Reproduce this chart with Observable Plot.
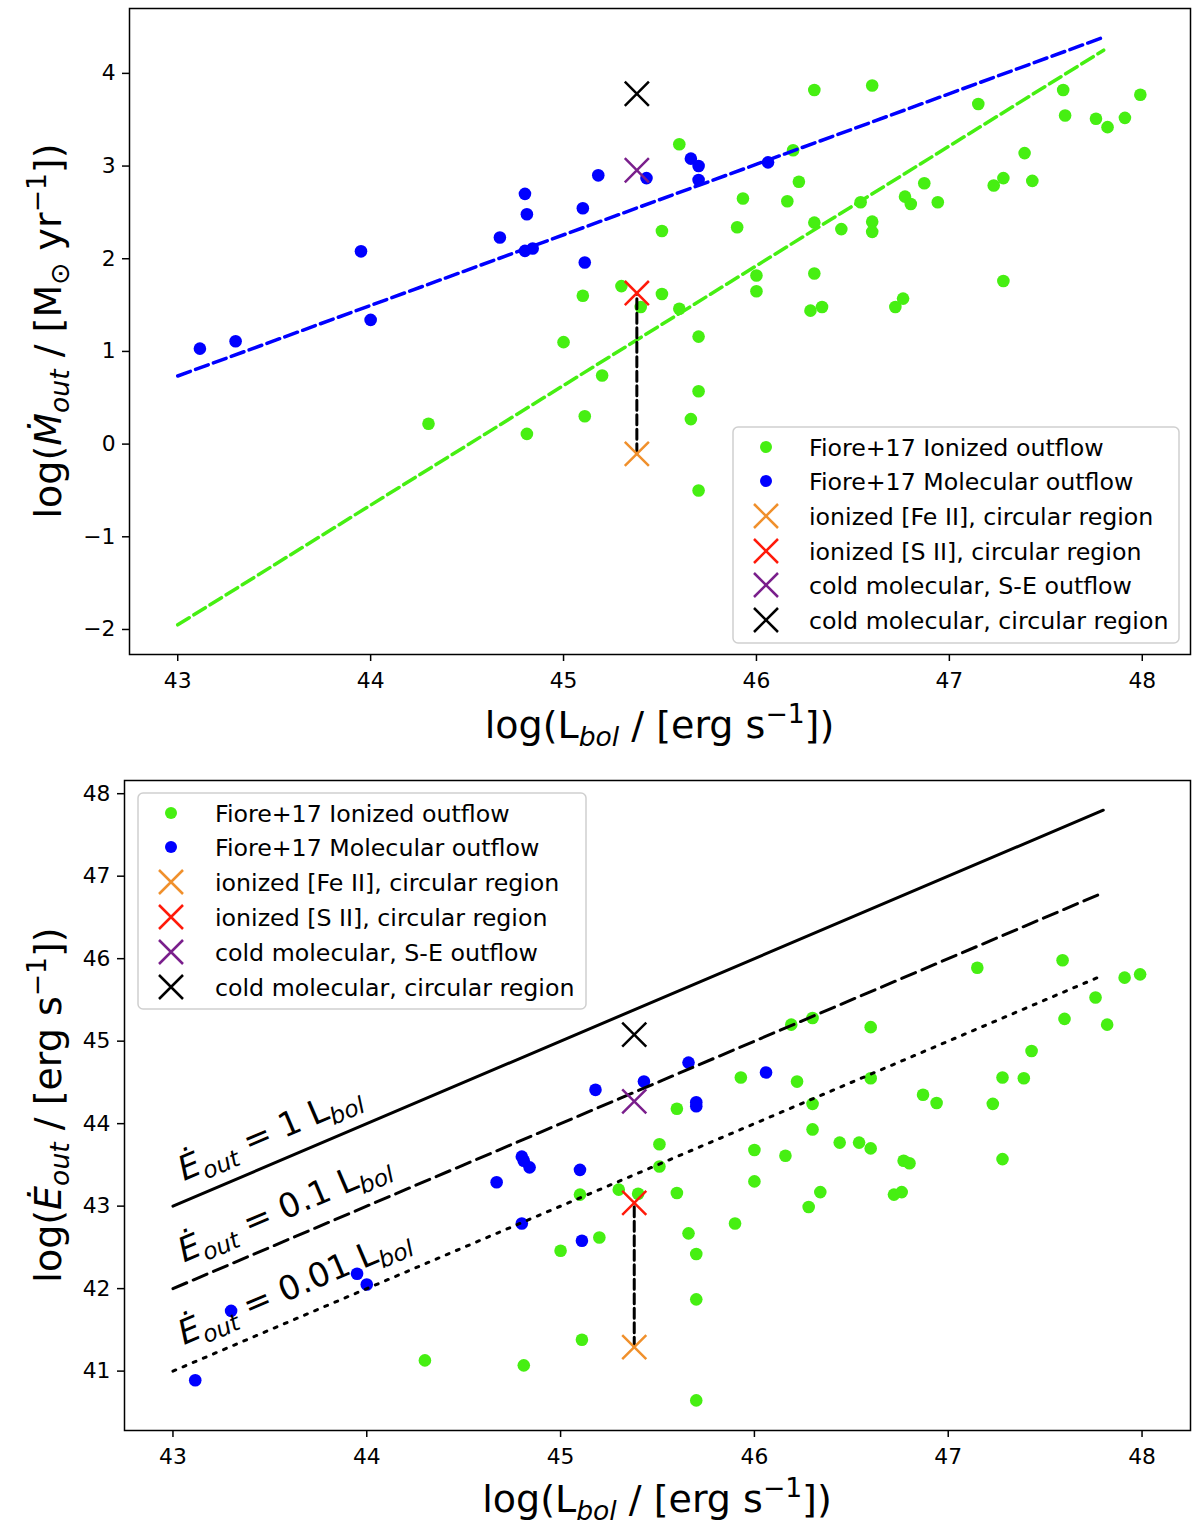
<!DOCTYPE html>
<html><head><meta charset="utf-8">
<script src="https://cdn.jsdelivr.net/npm/d3@7"></script>
<script src="https://cdn.jsdelivr.net/npm/@observablehq/plot@0.6"></script>
<style>
body{margin:0;background:#fff;}
#chart svg{display:block;}
</style>
</head><body><div id="chart"></div>
<script>
// ---------- data ----------
const ionLbol = [44.30,44.81,45.00,45.11,45.10,45.20,45.30,45.40,45.51,45.51,45.60,45.60,45.66,45.70,45.70,45.70,45.90,45.93,46.00,46.00,46.16,46.19,46.22,46.28,46.30,46.30,46.30,46.34,46.44,46.54,46.60,46.60,46.60,46.72,46.76,46.77,46.80,46.87,46.94,47.15,47.23,47.28,47.28,47.39,47.43,47.59,47.60,47.76,47.82,47.91,47.99];
const ionMdot = [0.22,0.11,1.10,0.30,1.60,0.74,1.705,1.48,1.62,2.30,3.235,1.46,0.27,1.16,0.57,-0.50,2.34,2.65,1.82,1.65,2.62,3.17,2.83,1.44,3.82,2.39,1.84,1.48,2.32,2.61,3.87,2.40,2.29,1.48,1.57,2.67,2.59,2.815,2.61,3.67,2.79,2.87,1.76,3.14,2.84,3.82,3.545,3.51,3.42,3.52,3.77];
const ionEdot = [41.13,41.07,42.46,41.38,43.14,42.62,43.20,43.15,43.75,43.48,44.18,43.16,42.67,42.42,41.87,40.645,42.79,44.56,43.68,43.30,43.61,45.20,44.51,42.99,45.28,44.24,43.93,43.17,43.77,43.77,45.17,44.55,43.70,43.14,43.17,43.55,43.52,44.35,44.25,45.89,44.24,44.56,43.57,44.55,44.88,45.98,45.27,45.53,45.20,45.77,45.81];

const molLbol = [43.115,43.30,43.95,44.00,44.67,44.80,44.81,44.80,44.84,45.10,45.11,45.18,45.43,45.66,45.70,45.70,46.06];
const molMdot = [1.03,1.11,2.08,1.34,2.23,2.70,2.48,2.085,2.11,2.545,1.96,2.90,2.87,3.08,3.00,2.85,3.04];
const molEdot = [40.89,41.73,42.18,42.05,43.29,43.60,43.55,42.79,43.47,43.44,42.58,44.41,44.51,44.74,44.26,44.21,44.62];

const seriesLabels = ["Fiore+17 Ionized outflow","Fiore+17 Molecular outflow"];
const crossLabels = ["ionized [Fe II], circular region","ionized [S II], circular region","cold molecular, S-E outflow","cold molecular, circular region"];
const crossColors = ["#f0902c","#ff1a0a","#7a1f8c","#000000"];
const crossLbol = [45.38,45.38,45.38,45.38];
const crossMdot = [-0.105,1.63,2.955,3.78];
const crossEdot = [41.29,43.04,44.27,45.08];

const fitLbol = [43.0,47.8];
const molFitMdot = [0.735,4.39];
const ionFitMdot = [-1.95,4.25];

const ratioLabels = ["1","0.1","0.01"];
const ratioLbol = [43.0,47.8];
const ratioEdot = [[43.0,47.8],[42.0,46.8],[41.0,45.8]];
const ratioDash = ["none","15,7","3,8"];
const ratioLabelLbol = [43.06,43.06,43.06];
const ratioLabelEdot = [43.30,42.31,41.31];

const xTicks = [43,44,45,46,47,48];
const yTicksTop = [-2,-1,0,1,2,3,4];
const yTicksBottom = [41,42,43,44,45,46,47,48];

// ---------- style ----------
const FONT = "DejaVu Sans, sans-serif";
const green = "#46ef12", blue = "#0000ff";
const pts = (xs, ys) => xs.map((x, i) => ({x, y: ys[i]}));
const crossPts = (ys) => crossLbol.map((x, i) => ({x, y: ys[i], c: crossColors[i]}));

function richText(sel, parts, size) {
  let shift = 0;
  for (const [txt, st] of parts) {
    const ts = sel.append("tspan").text(txt);
    let target = 0, fs = size;
    if (st.includes("sub")) { target = size * 0.22; fs = size * 0.7; }
    if (st.includes("sup")) { target = -size * 0.4; fs = size * 0.7; }
    if (st.includes("i")) ts.attr("font-style", "italic");
    ts.attr("font-size", fs).attr("dy", target - shift);
    shift = target;
  }
}
function label(svg, x, y, rot, parts, size, anchor = "middle") {
  const t = d3.select(svg).append("text")
    .attr("transform", `translate(${x},${y}) rotate(${rot})`)
    .attr("text-anchor", anchor).attr("font-family", FONT)
    .attr("font-size", size).attr("fill", "#000");
  richText(t, parts, size);
}
function legend(svg, box, markerX, textX, rowY) {
  const g = d3.select(svg).append("g").attr("text-anchor", "start");
  g.append("rect").attr("x", box[0]).attr("y", box[1]).attr("width", box[2] - box[0]).attr("height", box[3] - box[1])
    .attr("rx", 5).attr("fill", "white").attr("fill-opacity", 0.85).attr("stroke", "#cfcfcf").attr("stroke-width", 1.5);
  const items = [
    {type: "dot", c: green, t: seriesLabels[0]},
    {type: "dot", c: blue, t: seriesLabels[1]},
    ...crossLabels.map((t, i) => ({type: "x", c: crossColors[i], t}))
  ];
  items.forEach((it, i) => {
    const y = rowY[i];
    if (it.type === "dot") g.append("circle").attr("cx", markerX).attr("cy", y).attr("r", 6).attr("fill", it.c);
    else g.append("path").attr("d", `M${markerX-12},${y-12}L${markerX+12},${y+12}M${markerX-12},${y+12}L${markerX+12},${y-12}`)
      .attr("stroke", it.c).attr("stroke-width", 2.5).attr("fill", "none");
    g.append("text").attr("x", textX).attr("y", y).attr("dy", "0.36em").attr("text-anchor", "start").attr("font-family", FONT)
      .attr("font-size", 23.7).attr("fill", "#000").text(it.t);
  });
}

const common = {
  width: 1200,
  x: {domain: [42.75, 48.25]},
  style: {fontFamily: FONT, fontSize: "21.8px", color: "#000", background: "#fff", overflow: "visible"}
};
const axisOpts = {tickSize: 7, label: null, strokeWidth: 1.5, tickFormat: d3.format("d")};

// ---------- top panel ----------
const topPlot = Plot.plot({
  ...common,
  height: 760, marginLeft: 129, marginRight: 10, marginTop: 8, marginBottom: 106,
  y: {domain: [-2.27, 4.70]},
  marks: [
    Plot.axisX(xTicks, {...axisOpts, tickPadding: 11}),
    Plot.axisY(yTicksTop, {...axisOpts, tickPadding: 7}),
    Plot.dot(pts(ionLbol, ionMdot), {x: "x", y: "y", r: 6.3, fill: green}),
    Plot.dot(pts(molLbol, molMdot), {x: "x", y: "y", r: 6.3, fill: blue}),
    Plot.line(pts(fitLbol, molFitMdot), {x: "x", y: "y", stroke: blue, strokeWidth: 3.5, strokeDasharray: "13.5,5.5"}),
    Plot.line(pts(fitLbol, ionFitMdot), {x: "x", y: "y", stroke: green, strokeWidth: 3.5, strokeDasharray: "13.5,5.5"}),
    Plot.line(crossPts(crossMdot).slice(0, 2), {x: "x", y: "y", stroke: "#000", strokeWidth: 3, strokeDasharray: "10,4.5"}),
    Plot.dot(crossPts(crossMdot), {x: "x", y: "y", r: 11, symbol: "times", stroke: "c", strokeWidth: 2.5}),
    Plot.frame({stroke: "#000", strokeWidth: 1.5})
  ]
});

// ---------- bottom panel ----------
const botPlot = Plot.plot({
  ...common,
  height: 764, marginLeft: 124, marginRight: 10, marginTop: 20, marginBottom: 94,
  y: {domain: [40.28, 48.16]},
  marks: [
    Plot.axisX(xTicks, {...axisOpts, tickPadding: 11}),
    Plot.axisY(yTicksBottom, {...axisOpts, tickPadding: 7}),
    Plot.dot(pts(ionLbol, ionEdot), {x: "x", y: "y", r: 6.3, fill: green}),
    Plot.dot(pts(molLbol, molEdot), {x: "x", y: "y", r: 6.3, fill: blue}),
    ...ratioEdot.map((ys, i) => Plot.line(pts(ratioLbol, ys), {x: "x", y: "y", stroke: "#000", strokeWidth: 3, strokeDasharray: ratioDash[i]})),
    Plot.line(crossPts(crossEdot).slice(0, 2), {x: "x", y: "y", stroke: "#000", strokeWidth: 3, strokeDasharray: "10,4.5"}),
    Plot.dot(crossPts(crossEdot), {x: "x", y: "y", r: 11, symbol: "times", stroke: "c", strokeWidth: 2.5}),
    Plot.frame({stroke: "#000", strokeWidth: 1.5})
  ]
});

const chart = document.getElementById("chart");
chart.append(topPlot, botPlot);

// axis titles
const xLabelParts = [["log(L", ""], ["bol", "subi"], [" / [erg s", ""], ["\u22121", "sup"], ["])", ""]];
label(topPlot, (129 + 1190) / 2, 738, 0, xLabelParts, 38);
label(botPlot, (124 + 1190) / 2, 1512 - 760, 0, xLabelParts, 38);
label(topPlot, 61, 331, -90, [["log(", ""], ["\u1E40", "i"], ["out", "subi"], [" / [M", ""], ["\u2299", "sub"], [" yr", ""], ["\u22121", "sup"], ["])", ""]], 38);
label(botPlot, 61, 1105 - 760, -90, [["log(", ""], ["\u0116", "i"], ["out", "subi"], [" / [erg s", ""], ["\u22121", "sup"], ["])", ""]], 38);

// ratio annotations
{
  const sx = botPlot.scale("x"), sy = botPlot.scale("y");
  const ang = Math.atan2(sy.apply(ratioEdot[0][1]) - sy.apply(ratioEdot[0][0]), sx.apply(ratioLbol[1]) - sx.apply(ratioLbol[0])) * 180 / Math.PI;
  ratioLabels.forEach((r, i) => {
    label(botPlot, sx.apply(ratioLabelLbol[i]), sy.apply(ratioLabelEdot[i]), ang,
      [["\u0116", "i"], ["out", "subi"], [" = " + r + " L", ""], ["bol", "subi"]], 33.5, "start");
  });
}

// legends
legend(topPlot, [733, 427, 1179, 643], 766, 809, [447, 481, 516, 551, 585, 620]);
legend(botPlot, [138, 793 - 760, 586, 1009 - 760], 171, 215, [813, 847, 882, 917, 952, 987].map(v => v - 760));
</script>
</body></html>
